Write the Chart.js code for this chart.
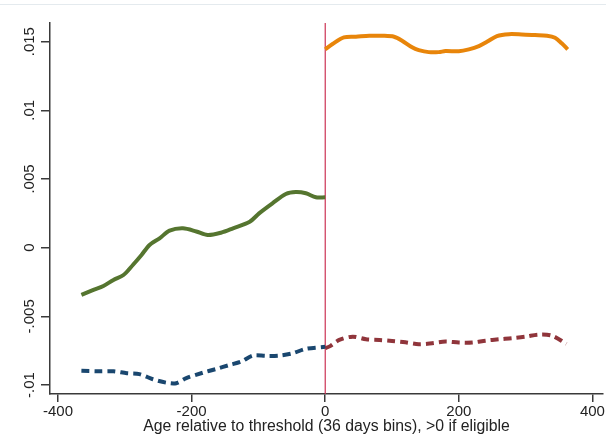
<!DOCTYPE html>
<html>
<head>
<meta charset="utf-8">
<script src="https://cdn.jsdelivr.net/npm/chart.js@4/dist/chart.umd.min.js"></script>
<style>
  html, body { margin: 0; padding: 0; background: #fff; }
  #wrap { width: 606px; height: 440px; position: relative; }
  canvas { display: block; }
</style>
</head>
<body>
<div id="wrap"><canvas id="c" width="606" height="440"></canvas></div>
<script>
// Smoothed outcome below the threshold (solid, days < 0)
const solidLeftX = [-365, -347, -332, -317, -302, -288, -275, -263, -248, -233, -213, -193, -176, -156, -138, -113, -99, -79, -59, -44, -29, -14, 0];
const solidLeftY = [-0.00344, -0.00308, -0.00279, -0.00235, -0.00199, -0.00126, -0.00053, 0.00020, 0.00068, 0.00124, 0.00141, 0.00118, 0.00092, 0.00109, 0.00141, 0.00189, 0.00250, 0.00323, 0.00391, 0.00405, 0.00396, 0.00367, 0.00367];

// Smoothed outcome above the threshold (solid, days > 0)
const solidRightX = [0, 11, 28, 46, 66, 86, 103, 115, 130, 140, 155, 170, 180, 200, 215, 230, 242, 257, 275, 294, 314, 332, 344, 354, 363];
const solidRightY = [0.01444, 0.01483, 0.01531, 0.01536, 0.01543, 0.01543, 0.01536, 0.01507, 0.01459, 0.01439, 0.01424, 0.01424, 0.01432, 0.01430, 0.01444, 0.01468, 0.01499, 0.01541, 0.01555, 0.01553, 0.01548, 0.01543, 0.01528, 0.01488, 0.01444];

// Second smoothed series below the threshold (dashed)
const dashLeftX = [-365, -337, -317, -297, -278, -258, -238, -223, -208, -183, -163, -143, -126, -108, -89, -69, -49, -29, 0];
const dashLeftY = [-0.00897, -0.00900, -0.00900, -0.00914, -0.00921, -0.00958, -0.00983, -0.00987, -0.00950, -0.00910, -0.00883, -0.00854, -0.00830, -0.00786, -0.00788, -0.00786, -0.00769, -0.00737, -0.00722];

// Second smoothed series above the threshold (dashed)
const dashRightX = [0, 8, 21, 41, 61, 81, 100, 120, 140, 160, 180, 200, 220, 240, 260, 280, 300, 319, 339, 361];
const dashRightY = [-0.00732, -0.00715, -0.00672, -0.00648, -0.00667, -0.00672, -0.00679, -0.00689, -0.00703, -0.00696, -0.00684, -0.00691, -0.00691, -0.00677, -0.00667, -0.00659, -0.00648, -0.00633, -0.00640, -0.00700];

const xTicks = [-400, -200, 0, 200, 400];
const yTicks = [-0.01, -0.005, 0, 0.005, 0.01, 0.015];
const yTickLabels = ['-.01', '-.005', '0', '.005', '.01', '.015'];
const threshold = 0;

const X_MIN = -412, X_MAX = 416;
const Y_MIN = -0.010655, Y_MAX = 0.016361;

const FONT = "'Liberation Sans', Arial, sans-serif";
const AXIS = '#3a3a3a';

const pts = (xs, ys) => xs.map((x, i) => ({ x, y: ys[i] }));

const line = (data, color, dashed) => ({
  data,
  borderColor: color,
  borderWidth: 4,
  borderDash: dashed ? [8, 5] : [],
  borderCapStyle: 'butt',
  pointRadius: 0,
  tension: 0.3,
  fill: false
});

// Rotated y tick labels (bottom to top) and the thin frame line at the top
const decorPlugin = {
  id: 'decor',
  beforeDraw(chart) {
    const { ctx } = chart;
    ctx.save();
    ctx.strokeStyle = '#e4eaee';
    ctx.lineWidth = 1;
    ctx.beginPath();
    ctx.moveTo(0, 4.5);
    ctx.lineTo(606, 4.5);
    ctx.stroke();
    ctx.restore();
  },
  afterDraw(chart) {
    const { ctx, scales: { y } } = chart;
    ctx.save();
    ctx.fillStyle = '#222';
    ctx.font = `15px ${FONT}`;
    ctx.textAlign = 'center';
    ctx.textBaseline = 'middle';
    yTicks.forEach((v, i) => {
      const py = y.getPixelForValue(v);
      ctx.save();
      ctx.translate(30, py);
      ctx.rotate(-Math.PI / 2);
      ctx.fillText(yTickLabels[i], 0, 0);
      ctx.restore();
    });
    ctx.restore();
  }
};

new Chart(document.getElementById('c'), {
  type: 'line',
  data: {
    datasets: [
      line(pts(solidLeftX, solidLeftY), '#55752f', false),
      line(pts(solidRightX, solidRightY), '#e8850a', false),
      line(pts(dashLeftX, dashLeftY), '#1a476f', true),
      line(pts(dashRightX, dashRightY), '#90353b', true),
      {
        data: [{ x: threshold, y: Y_MIN }, { x: threshold, y: Y_MAX }],
        borderColor: '#cc3355',
        borderWidth: 1.2,
        pointRadius: 0,
        fill: false
      }
    ]
  },
  options: {
    responsive: false,
    animation: false,
    devicePixelRatio: 1,
    layout: { padding: { top: 23, right: 2, left: 0, bottom: 0 } },
    plugins: { legend: { display: false }, tooltip: { enabled: false } },
    scales: {
      x: {
        type: 'linear',
        min: X_MIN,
        max: X_MAX,
        afterBuildTicks: s => { s.ticks = xTicks.map(v => ({ value: v })); },
        afterFit: s => { s.height = 46; },
        ticks: {
          color: '#222',
          font: { family: FONT, size: 15 },
          padding: 1,
          maxRotation: 0,
          autoSkip: false,
          callback: v => String(v)
        },
        grid: { drawOnChartArea: false, drawTicks: true, tickLength: 8, color: AXIS, lineWidth: 1.5 },
        border: { display: true, color: AXIS, width: 1.5 },
        title: {
          display: true,
          text: 'Age relative to threshold (36 days bins), >0 if eligible',
          color: '#222',
          font: { family: FONT, size: 15.8 },
          padding: { top: 0, bottom: 4 }
        }
      },
      y: {
        type: 'linear',
        min: Y_MIN,
        max: Y_MAX,
        afterBuildTicks: s => { s.ticks = yTicks.map(v => ({ value: v })); },
        afterFit: s => { s.width = 50; },
        ticks: {
          color: 'rgba(0,0,0,0)',
          font: { family: FONT, size: 15 },
          autoSkip: false,
          callback: (v, i) => yTickLabels[i]
        },
        grid: { drawOnChartArea: false, drawTicks: true, tickLength: 9, color: AXIS, lineWidth: 1.5 },
        border: { display: true, color: AXIS, width: 1.5 }
      }
    }
  },
  plugins: [decorPlugin]
});
</script>
</body>
</html>
